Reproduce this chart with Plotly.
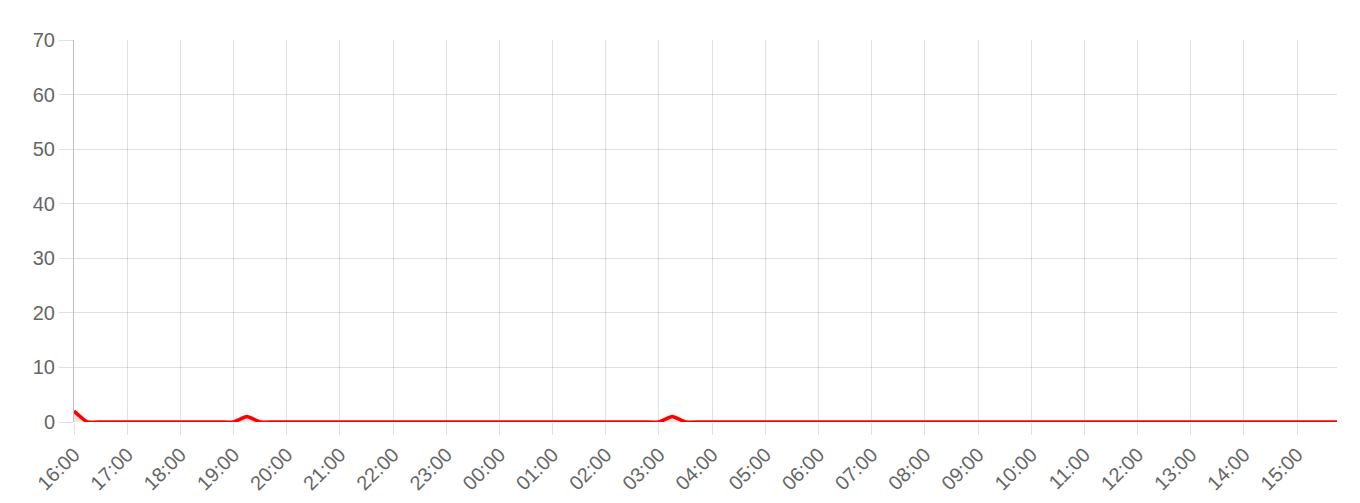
import pandas as pd
import plotly.graph_objects as go

# 15-minute readings, 16:00 -> 15:45 next day
start_time = "2024-01-01 16:00"
n_points = 96

values_16_to_22 = [2, 0, 0, 0, 0, 0, 0, 0, 0, 0, 0, 0,
                   0, 1, 0, 0, 0, 0, 0, 0, 0, 0, 0, 0]
values_22_to_04 = [0, 0, 0, 0, 0, 0, 0, 0, 0, 0, 0, 0,
                   0, 0, 0, 0, 0, 0, 0, 0, 0, 1, 0, 0]
values_04_to_10 = [0, 0, 0, 0, 0, 0, 0, 0, 0, 0, 0, 0,
                   0, 0, 0, 0, 0, 0, 0, 0, 0, 0, 0, 0]
values_10_to_16 = [0, 0, 0, 0, 0, 0, 0, 0, 0, 0, 0, 0,
                   0, 0, 0, 0, 0, 0, 0, 0, 0, 0, 0, 0]

values = values_16_to_22 + values_22_to_04 + values_04_to_10 + values_10_to_16
times = pd.date_range(start_time, periods=n_points, freq="15min")

y_ticks = [0, 10, 20, 30, 40, 50, 60, 70]

fig = go.Figure()
fig.add_trace(go.Scatter(
    x=times, y=values, mode="lines",
    line=dict(color="#ff0000", width=3.5, shape="spline", smoothing=0.4),
    fill="tozeroy", fillcolor="rgba(255,0,0,0.12)",
))

grid = "rgba(0,0,0,0.12)"
# page body adds ~8px offset, margins compensate for it
fig.update_layout(
    width=1360, height=503,
    margin=dict(l=66, r=31, t=32, b=89),
    plot_bgcolor="white", paper_bgcolor="white",
    showlegend=False,
    font=dict(family="Liberation Sans, Arial, sans-serif", size=20, color="#666"),
    xaxis=dict(
        range=[times[0], times[-1]],
        tickformat="%H:%M", dtick=3600000, tick0=times[0],
        tickangle=-45, automargin=False,
        showgrid=True, gridcolor=grid, gridwidth=1,
        ticks="outside", ticklen=12, tickcolor=grid,
        showline=False, zeroline=False,
    ),
    yaxis=dict(
        range=[0, 70], tickvals=y_ticks, automargin=False,
        showgrid=True, gridcolor=grid, gridwidth=1,
        ticks="outside", ticklen=14, tickcolor=grid,
        showline=True, linecolor="rgba(0,0,0,0.25)", linewidth=1,
        zeroline=False,
    ),
)

fig.write_html("out.html")
